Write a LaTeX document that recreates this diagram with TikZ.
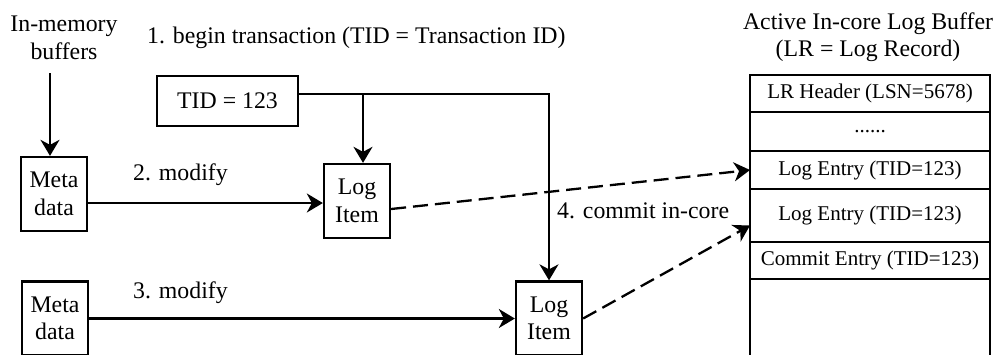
\documentclass[tikz,border=0pt]{standalone}
\usepackage{fontspec}
\setmainfont{Liberation Serif}
\usetikzlibrary{arrows.meta,positioning}

\begin{document}
\begin{tikzpicture}[x=1pt,y=-1pt,
  node distance=0pt,
  every node/.style={font=\fontsize{23.8}{27.5}\selectfont},
  blk/.style={draw,line width=2.3pt,minimum width=66pt,minimum height=74pt,inner sep=0pt,align=center},
  tidbox/.style={draw,line width=2.3pt,minimum width=141pt,minimum height=50pt,inner sep=0pt},
  cell/.style={draw,line width=2.3pt,minimum width=240pt,inner sep=0pt,outer sep=0pt,
    font=\fontsize{21}{25}\selectfont},
  lab/.style={inner sep=0pt,anchor=base west},
  arr/.style={-{Stealth[length=16pt,width=19pt,inset=5pt]},line width=2.3pt},
  darr/.style={arr,dash pattern=on 15pt off 7pt}]
\useasboundingbox (0,0) rectangle (998,354);
\clip (0,0) rectangle (998,354);
\node[align=center,inner sep=0pt] (inmem) at (64,38) {In-memory\\buffers};
\node[lab] (s1) at (147,43) {1. begin transaction (TID = Transaction ID)};
\node[tidbox] (tid) at (227.5,101) {TID = 123};
\node[blk] (meta1) at (54,194) {Meta\\data};
\node[blk] (li1) at (357,201) {Log\\Item};
\node[blk] (meta2) at (55,318.5) {Meta\\data};
\node[blk] (li2) at (549,318.5) {Log\\Item};
\node[lab] (s2) at (133,180) {2. modify};
\node[lab] (s3) at (133,298) {3. modify};
\node[lab] (s4) at (557,218) {4. commit in-core};
\node[align=center,inner sep=0pt] (buftitle) at (868,37) {Active In-core Log Buffer\\(LR = Log Record)};
\node[cell,minimum height=37pt] (row1) at (870,93.5) {LR Header (LSN=5678)};
\node[cell,minimum height=39pt,below=of row1] (row2) {......};
\node[cell,minimum height=38pt,below=of row2] (row3) {Log Entry (TID=123)};
\node[cell,minimum height=53pt,below=of row3] (row4) {Log Entry (TID=123)};
\node[cell,minimum height=37pt,below=of row4] (row5) {Commit Entry (TID=123)};
\node[cell,minimum height=86pt,below=of row5] (row6) {};
\coordinate (bufsrc) at (50,73);
\coordinate (tidout) at ([yshift=7pt]tid.east);
\coordinate (li1in) at ([yshift=-2pt]li1.west);
\draw[arr] (bufsrc) -- (bufsrc |- meta1.north);
\draw[arr] (tidout) -| (li2.north);
\draw[arr] ([xshift=6pt]li1.north |- tidout) -- ([xshift=6pt]li1.north);
\draw[arr] (meta1.east |- li1in) -- (li1in);
\draw[arr] (meta2) -- (li2);
\draw[darr] ([yshift=-8pt]li1.east) -- (row3.west);
\draw[darr] (li2.east) -- ([yshift=-10pt]row4.west);
\end{tikzpicture}
\end{document}
